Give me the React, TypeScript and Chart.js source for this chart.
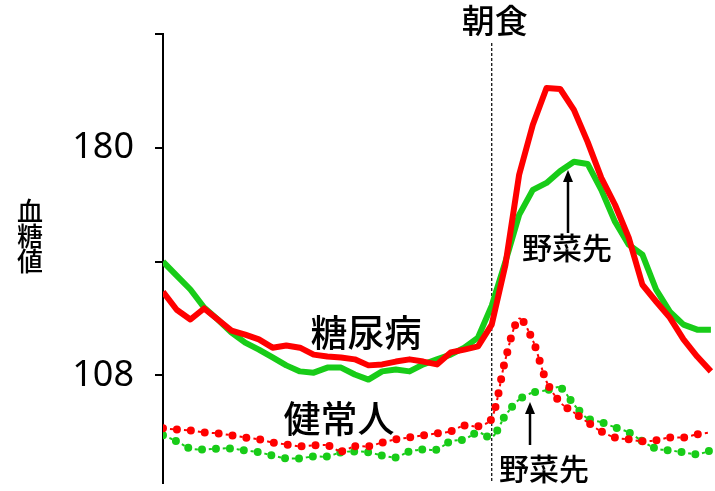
import React, { useEffect, useRef } from 'react';
import { Chart, registerables } from 'chart.js';

Chart.register(...registerables);

// minutes relative to breakfast (0)
const minutes = [
  -120, -115, -110, -105, -100, -95, -90, -85, -80, -75, -70, -65, -60, -55, -50, -45, -40, -35, -30, -25, -20,
  -15, -10, -5, 0, 5, 10, 15, 20, 25, 30, 35, 40, 45, 50, 55, 60, 65, 70, 75, 80,
];

// 糖尿病 (diabetic) - usual order (red, solid)
const diabeticUsual = [
  134.5, 128.8, 125.7, 129.2, 125.7, 122.2, 120.9, 119.4, 116.8, 117.5, 116.8, 114.6, 114.0, 113.7, 113.1, 111.2,
  111.5, 112.4, 113.1, 112.4, 111.5, 115.3, 116.2, 117.2, 124.1, 143.0, 171.5, 187.3, 198.9, 198.6, 192.0, 181.9,
  170.5, 162.0, 151.6, 136.7, 131.4, 126.3, 119.4, 114.0, 109.3,
];

// 糖尿病 (diabetic) - vegetables first (green, solid)
const diabeticVegFirst = [
  144.0, 139.6, 135.2, 129.5, 125.7, 121.6, 118.4, 116.2, 113.7, 111.2, 109.3, 108.9, 110.5, 110.5, 108.3, 106.7,
  109.3, 109.9, 109.3, 111.5, 113.1, 114.6, 116.8, 120.0, 130.1, 144.0, 158.8, 166.7, 168.9, 172.7, 175.6, 174.9,
  166.7, 156.6, 149.4, 146.2, 135.2, 128.2, 124.1, 122.5, 122.5,
];

// 健常人 (healthy) - usual order (red, dotted)
const healthyUsual = [
  91.3, 90.9, 90.6, 90.0, 89.7, 89.1, 88.4, 87.8, 86.8, 86.2, 85.6, 85.9, 85.9, 84.0, 85.6, 85.6, 86.8, 87.8, 88.4,
  89.1, 89.7, 90.3, 92.2, 91.9, 94.4, 113.1, 126.0, 119.1, 106.1, 99.5, 96.3, 93.2, 90.3, 88.4, 87.8, 87.2, 87.5,
  88.4, 88.4, 89.4, 90.0,
];

// 健常人 (healthy) - vegetables first (green, dotted)
const healthyVegFirst = [
  89.1, 87.2, 84.9, 84.6, 84.9, 84.9, 84.3, 83.7, 82.7, 81.8, 81.8, 82.4, 82.4, 83.7, 84.0, 83.7, 82.7, 82.1, 84.0,
  84.6, 84.6, 87.2, 87.8, 90.0, 88.4, 95.4, 100.4, 102.6, 103.3, 104.2, 98.8, 94.4, 93.2, 91.6, 90.0, 87.2, 84.9,
  84.3, 83.7, 83.1, 84.3,
];

const yTickValues = [108, 144, 180, 216];
const yTickLabels = ['108', '', '180', ''];
const breakfastMinute = 0;

const RED = 'rgb(255, 0, 0)';
const GREEN = 'rgb(24, 204, 24)';
const JP = '"Noto Sans CJK JP", "Noto Sans", sans-serif';

const toPoints = (vals: number[]) => vals.map((v, i) => ({ x: minutes[i], y: v }));

const drawArrow = (ctx: CanvasRenderingContext2D, x: number, yBottom: number, yTop: number) => {
  ctx.save();
  ctx.strokeStyle = '#000';
  ctx.fillStyle = '#000';
  ctx.lineWidth = 2.5;
  ctx.beginPath();
  ctx.moveTo(x, yBottom);
  ctx.lineTo(x, yTop + 10);
  ctx.stroke();
  ctx.beginPath();
  ctx.moveTo(x, yTop);
  ctx.lineTo(x - 5, yTop + 12);
  ctx.lineTo(x + 5, yTop + 12);
  ctx.closePath();
  ctx.fill();
  ctx.restore();
};

const annotationPlugin = {
  id: 'annotations',
  beforeDatasetsDraw(chart: any) {
    const { ctx, chartArea, scales } = chart;
    const x0 = scales.x.getPixelForValue(breakfastMinute);
    ctx.save();
    ctx.strokeStyle = '#000';
    ctx.lineWidth = 1.2;
    ctx.setLineDash([3, 2]);
    ctx.beginPath();
    ctx.moveTo(x0, 43);
    ctx.lineTo(x0, chartArea.bottom);
    ctx.stroke();
    ctx.restore();
  },
  afterDatasetsDraw(chart: any) {
    const { ctx, scales } = chart;
    const x0 = scales.x.getPixelForValue(breakfastMinute);
    ctx.save();
    ctx.fillStyle = '#000';
    ctx.textAlign = 'center';
    ctx.textBaseline = 'middle';

    ctx.font = `500 33px ${JP}`;
    ctx.fillText('朝食', x0 + 3, 20);

    ctx.font = `500 37px ${JP}`;
    ctx.fillText('糖尿病', 366, 333);
    ctx.fillText('健常人', 339, 419);

    ctx.font = `500 30px ${JP}`;
    ctx.fillText('野菜先', 567, 248);
    ctx.fillText('野菜先', 544, 469);

    // y-axis title, vertical
    ctx.font = `500 26px ${JP}`;
    ['血', '糖', '値'].forEach((c, i) => ctx.fillText(c, 30, 211 + i * 25));
    ctx.restore();

    drawArrow(ctx, 568, 233, 170);
    drawArrow(ctx, 530, 445, 402);
  },
};

const dottedDots = (label: string, vals: number[], color: string, order: number) => ({
  label,
  data: toPoints(vals),
  borderColor: color,
  borderWidth: 8,
  borderDash: [0, 14],
  borderCapStyle: 'round',
  pointRadius: 0,
  tension: 0.3,
  order,
});

const dottedLink = (label: string, vals: number[], color: string, order: number) => ({
  label,
  data: toPoints(vals),
  borderColor: color,
  borderWidth: 2,
  borderDash: [3, 4],
  pointRadius: 0,
  tension: 0.3,
  order,
});

export default function App() {
  const canvasRef = useRef<HTMLCanvasElement>(null);

  useEffect(() => {
    if (!canvasRef.current) return;
    const chart = new Chart(canvasRef.current, {
      type: 'line',
      data: {
        datasets: [
          {
            label: '糖尿病 通常',
            data: toPoints(diabeticUsual),
            borderColor: RED,
            borderWidth: 6,
            borderJoinStyle: 'round',
            pointRadius: 0,
            tension: 0,
            order: 1,
          },
          {
            label: '糖尿病 野菜先',
            data: toPoints(diabeticVegFirst),
            borderColor: GREEN,
            borderWidth: 6,
            borderJoinStyle: 'round',
            pointRadius: 0,
            tension: 0,
            order: 2,
          },
          dottedDots('健常人 通常', healthyUsual, RED, 3),
          dottedLink('健常人 通常 線', healthyUsual, RED, 4),
          dottedDots('健常人 野菜先', healthyVegFirst, GREEN, 5),
          dottedLink('健常人 野菜先 線', healthyVegFirst, GREEN, 6),
        ],
      },
      options: {
        animation: false,
        responsive: false,
        maintainAspectRatio: false,
        layout: { padding: { top: 34, bottom: 8, left: 0, right: 0 } },
        plugins: {
          legend: { display: false },
          tooltip: { enabled: false },
        },
        scales: {
          x: {
            type: 'linear',
            min: -120,
            max: 81.5,
            display: false,
          },
          y: {
            type: 'linear',
            min: 74,
            max: 216,
            afterBuildTicks: (scale: any) => {
              scale.ticks = yTickValues.map((v) => ({ value: v }));
            },
            afterFit: (scale: any) => {
              scale.width = 163;
              scale.paddingTop = 0;
              scale.paddingBottom = 0;
            },
            ticks: {
              autoSkip: false,
              padding: 21,
              color: '#000',
              font: { family: '"Noto Sans", sans-serif', size: 36 },
              callback: (value: any) => {
                const idx = yTickValues.indexOf(Number(value));
                return idx >= 0 ? yTickLabels[idx] : '';
              },
            },
            grid: {
              drawOnChartArea: false,
              drawTicks: true,
              tickLength: 8,
              color: '#000',
              lineWidth: 2,
            },
            border: { display: true, color: '#000', width: 2 },
          },
        },
      },
      plugins: [annotationPlugin],
    } as any);
    return () => chart.destroy();
  }, []);

  return (
    <div style={{ position: 'fixed', left: 0, top: 0, width: 715, height: 491, background: '#fff' }}>
      <canvas ref={canvasRef} width={715} height={491} style={{ display: 'block' }} />
    </div>
  );
}
